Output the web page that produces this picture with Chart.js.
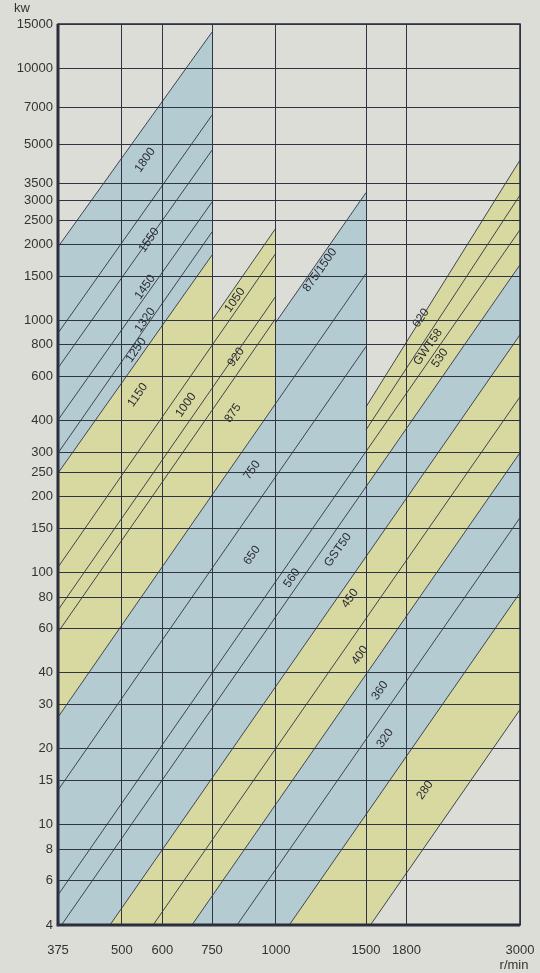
<!DOCTYPE html>
<html>
<head>
<meta charset="utf-8">
<script src="https://cdn.jsdelivr.net/npm/chart.js@4.4.1/dist/chart.umd.min.js"></script>
<style>
  html, body { margin: 0; padding: 0; background: #dcddd7; }
  #wrap { width: 540px; height: 973px; }
</style>
</head>
<body>
<div id="wrap"><canvas id="chart" width="540" height="973"></canvas></div>
<script>
// axis ticks
const xTicks = [375, 500, 600, 750, 1000, 1500, 1800, 3000];
const yTicks = [4, 6, 8, 10, 15, 20, 30, 40, 60, 80, 100, 150, 200, 250, 300, 400, 600, 800,
  1000, 1500, 2000, 2500, 3000, 3500, 5000, 7000, 10000, 15000];

// rating lines, [r/min, kW] (ends below 4 kW run off the plot)
const L1 = [[375, 1957], [750, 13930]];
const L2 = [[375, 891], [750, 6524]];
const L3 = [[375, 648], [750, 4740]];
const L4 = [[375, 403], [750, 2950]];
const L5 = [[375, 298], [750, 2244]];
const L6 = [[375, 248], [750, 1817]];
const M1 = [[375, 105], [750, 797], [1000, 1849]];
const M2 = [[375, 71], [750, 538], [1000, 1249]];
const M3 = [[375, 58], [750, 440], [1000, 1022]];
const L7 = [[750, 1002], [1000, 2325]];
const L8 = [[1000, 985], [1500, 3216]];
const A = [[375, 26.7], [750, 203], [1000, 470], [1500, 1535]];
const B = [[375, 13.7], [1500, 788]];
const T4 = [[1500, 454], [3000, 4325]];
const C = [[1500, 368], [3000, 3144]];
const D = [[375, 5.26], [3000, 2290]];
const E = [[375, 3.82], [1500, 219], [3000, 1664]];
const F = [[375, 2.02], [1500, 115.7], [3000, 878]];
const G = [[375, 1.145], [3000, 498]];
const H = [[375, 0.687], [3000, 299]];
const I = [[375, 0.38], [3000, 165]];
const J = [[375, 0.191], [3000, 83.2]];
const K = [[375, 0.0657], [3000, 28.6]];

const drawnLines = [L1, L2, L3, L4, L5, L6, M1, M2, M3, L7, L8, A, B, T4, C, D, E, F, G, H, I, J, K];

// coloured bands: [top, bottom, from, to, colour]
const BLUE = '#b5cbd2';
const YELLOW = '#d8d8a1';
const bands = [
  [L1, L6, 375, 750, BLUE],
  [L6, A, 375, 750, YELLOW],
  [L7, A, 750, 1000, YELLOW],
  [L8, A, 1000, 1500, BLUE],
  [A, F, 375, 1500, BLUE],
  [T4, E, 1500, 3000, YELLOW],
  [E, F, 1500, 3000, BLUE],
  [F, H, 375, 3000, YELLOW],
  [H, J, 375, 3000, BLUE],
  [J, K, 375, 3000, YELLOW]
];

// size labels placed in the bands
const labelText = ['1800', '1550', '1450', '1320', '1250', '1150', '1000', '1050', '920', '875',
  '875/1500', '750', '650', '560', 'GST50', '620', 'GWT58', '530', '450', '400', '360', '320', '280'];
const labelX = [555, 565, 555, 555, 533, 537, 667, 832, 836, 824,
  1219, 898, 898, 1075, 1322, 1921, 1983, 2092, 1396, 1460, 1597, 1634, 1956];
const labelY = [4325, 2085, 1357, 1004, 763, 506, 462, 1205, 716, 429,
  1584, 255, 117, 95, 123, 1022, 784, 709, 79, 47, 34, 22, 13.7];

const toPts = (line, x0, x1) => line
  .filter(p => p[0] >= x0 && p[0] <= x1)
  .map(p => ({ x: p[0], y: p[1] }));

const datasets = [];
drawnLines.forEach(line => {
  datasets.push({
    data: toPts(line, 0, 1e9),
    borderColor: '#2e3444',
    borderWidth: 0.9,
    pointRadius: 0,
    fill: false,
    order: 0
  });
});
bands.forEach(b => {
  datasets.push({
    data: toPts(b[1], b[2], b[3]),
    borderWidth: 0,
    pointRadius: 0,
    fill: false,
    order: 1
  });
  datasets.push({
    data: toPts(b[0], b[2], b[3]),
    borderWidth: 0,
    pointRadius: 0,
    backgroundColor: b[4],
    fill: '-1',
    order: 1
  });
});

const extras = {
  id: 'extras',
  afterDatasetsDraw(chart) {
    const { ctx, chartArea: a, scales: { x, y } } = chart;
    ctx.save();
    ctx.fillStyle = '#2a2d33';
    ctx.font = '12px "Liberation Sans", Arial, sans-serif';
    ctx.textAlign = 'center';
    ctx.textBaseline = 'middle';
    labelText.forEach((t, i) => {
      ctx.save();
      ctx.translate(x.getPixelForValue(labelX[i]), y.getPixelForValue(labelY[i]));
      ctx.rotate(-55 * Math.PI / 180);
      ctx.fillText(t, 0, 0);
      ctx.restore();
    });
    ctx.strokeStyle = '#262b3a';
    ctx.lineWidth = 1.5;
    ctx.strokeRect(a.left, a.top, a.right - a.left, a.bottom - a.top);
    ctx.lineWidth = 3;
    ctx.beginPath();
    ctx.moveTo(a.left, a.top);
    ctx.lineTo(a.left, a.bottom);
    ctx.lineTo(a.right, a.bottom);
    ctx.stroke();
    ctx.fillStyle = '#333';
    ctx.font = '13px "Liberation Sans", Arial, sans-serif';
    ctx.fillText('kw', 22, 8);
    ctx.fillText('r/min', 514, 965);
    ctx.restore();
  }
};

new Chart(document.getElementById('chart'), {
  type: 'line',
  data: { datasets },
  plugins: [extras],
  options: {
    responsive: false,
    animation: false,
    layout: { padding: { top: 24, right: 20 } },
    plugins: { legend: { display: false }, tooltip: { enabled: false } },
    scales: {
      x: {
        type: 'logarithmic',
        min: 375,
        max: 3000,
        afterBuildTicks: s => { s.ticks = xTicks.map(v => ({ value: v })); },
        afterFit: s => { s.height = 48; s.paddingLeft = 0; s.paddingRight = 0; },
        grid: { color: '#2e3444', lineWidth: 1, drawTicks: false, z: 1 },
        border: { display: false },
        ticks: {
          color: '#333',
          padding: 18,
          maxRotation: 0,
          autoSkip: false,
          font: { family: '"Liberation Sans", Arial, sans-serif', size: 13 },
          callback: v => String(v)
        }
      },
      y: {
        type: 'logarithmic',
        min: 4,
        max: 15000,
        afterBuildTicks: s => { s.ticks = yTicks.map(v => ({ value: v })); },
        afterFit: s => { s.width = 58; s.paddingTop = 0; s.paddingBottom = 0; },
        grid: { color: '#2e3444', lineWidth: 1, drawTicks: false, z: 1 },
        border: { display: false },
        ticks: {
          color: '#333',
          padding: 5,
          autoSkip: false,
          font: { family: '"Liberation Sans", Arial, sans-serif', size: 13 },
          callback: v => String(v)
        }
      }
    }
  }
});
</script>
</body>
</html>
